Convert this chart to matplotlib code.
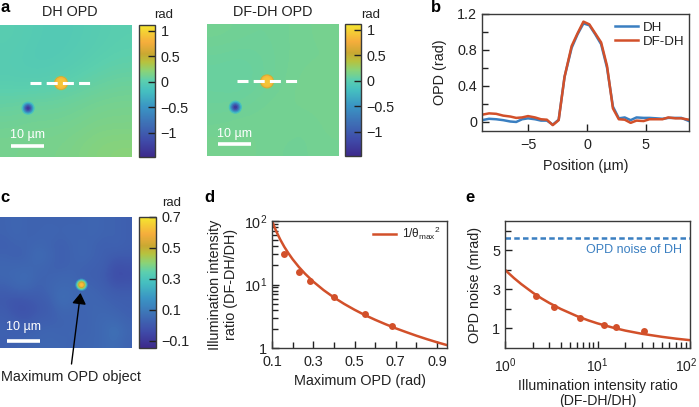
"""
OPD comparison figure: DH vs DF-DH maps, line profile, noise curves.
"""

import matplotlib
matplotlib.use('Agg')
import matplotlib.pyplot as plt
from matplotlib.colors import LinearSegmentedColormap, Normalize
from matplotlib.patches import Circle
from matplotlib.ticker import FixedLocator, NullFormatter
from matplotlib.transforms import ScaledTranslation

W, H = 699, 407

# panel a: coarse background maps (rad), rows top to bottom
dh_map = [
    [0.00, -0.03, -0.05, -0.04, -0.01, 0.01],
    [-0.02, -0.05, -0.05, -0.02, 0.01, 0.03],
    [-0.01, -0.02, 0.00, 0.03, 0.06, 0.08],
    [0.06, 0.08, 0.08, 0.10, 0.12, 0.13],
    [0.11, 0.12, 0.12, 0.13, 0.15, 0.15],
    [0.13, 0.14, 0.14, 0.16, 0.19, 0.20],
]
dfdh_map = [
    [0.12, 0.11, 0.10, 0.11, 0.12, 0.13],
    [0.09, 0.08, 0.09, 0.11, 0.12, 0.12],
    [0.07, 0.06, 0.09, 0.11, 0.13, 0.13],
    [0.09, 0.09, 0.11, 0.12, 0.13, 0.13],
    [0.11, 0.12, 0.12, 0.12, 0.11, 0.13],
    [0.13, 0.13, 0.12, 0.11, 0.11, 0.12],
]

# bright and dark objects: centre in um, ring radius in um, ring value in rad
bright_radii = [2.2, 2.05, 1.9, 1.7, 1.3]
bright_values = [0.3, 0.55, 0.75, 0.85, 0.9]
dark_radii = [2.0, 1.6, 1.25, 0.9, 0.5]
dark_values = [-0.15, -0.45, -0.75, -1.05, -1.3]
dh_bright_xy = (18.5, 17.6)
dh_dark_xy = (8.5, 25.2)
dfdh_bright_xy = (18.2, 17.4)
dfdh_dark_xy = (8.6, 25.2)

# panel b: line profile
position = [-8.9, -8.3, -7.7, -7.1, -6.5, -6.0, -5.5, -5.0, -4.4, -3.9, -3.4, -2.9,
            -2.4, -1.9, -1.3, -0.8, -0.3, 0.2, 0.7, 1.2, 1.7, 2.2, 2.7, 3.2, 3.7,
            4.2, 4.8, 5.3, 5.9, 6.4, 6.9, 7.5, 8.0, 8.65]
opd_dh = [0.02, 0.035, 0.03, 0.02, 0.005, 0.0, 0.03, 0.04, 0.03, 0.015, 0.015, -0.03,
          0.025, 0.5, 0.82, 0.97, 1.09, 1.07, 0.97, 0.86, 0.6, 0.17, 0.04, 0.05, 0.02,
          0.05, 0.045, 0.045, 0.04, 0.035, 0.045, 0.045, 0.045, 0.01]
opd_dfdh = [0.08, 0.095, 0.09, 0.07, 0.06, 0.045, 0.05, 0.065, 0.05, 0.03, 0.025, -0.035,
            0.02, 0.5, 0.84, 0.98, 1.11, 1.08, 0.98, 0.88, 0.62, 0.15, 0.03, 0.025, -0.01,
            0.015, 0.01, 0.03, 0.03, 0.03, 0.05, 0.04, 0.04, 0.025]

# panel c: coarse background map (rad), rows top to bottom
max_opd_map = [
    [0.03, 0.04, 0.03, 0.03, 0.03, 0.03, 0.03, 0.03, 0.04, 0.03, 0.03, 0.02],
    [0.03, 0.04, 0.03, 0.03, 0.04, 0.03, 0.04, 0.03, 0.04, 0.03, 0.03, 0.02],
    [0.02, 0.03, 0.03, 0.04, 0.03, 0.02, 0.03, 0.04, 0.03, 0.02, 0.03, 0.02],
    [0.03, 0.02, 0.03, 0.06, 0.04, 0.02, 0.03, 0.04, 0.03, 0.02, 0.01, 0.01],
    [0.04, 0.04, 0.04, 0.04, 0.03, 0.02, 0.03, 0.03, 0.02, 0.02, -0.03, -0.02],
    [0.04, 0.05, 0.06, 0.03, 0.03, 0.04, 0.04, 0.02, 0.02, 0.01, -0.04, -0.03],
    [0.02, 0.04, 0.04, 0.02, 0.04, 0.05, 0.05, 0.04, 0.03, 0.02, 0.00, 0.00],
    [0.00, -0.01, 0.00, 0.01, 0.02, 0.07, 0.05, 0.04, 0.04, 0.03, 0.02, 0.02],
    [0.01, -0.02, -0.02, 0.00, 0.01, 0.04, 0.04, 0.03, 0.04, 0.04, 0.03, 0.02],
    [0.02, 0.01, 0.00, 0.02, 0.02, 0.03, 0.03, 0.03, 0.04, 0.05, 0.05, 0.03],
    [0.03, 0.02, 0.03, 0.03, 0.04, 0.03, 0.04, 0.03, 0.04, 0.05, 0.08, 0.04],
    [0.02, 0.03, 0.03, 0.04, 0.04, 0.04, 0.03, 0.04, 0.04, 0.05, 0.06, 0.03],
]
max_radii = [1.9, 1.6, 1.3, 1.0, 0.7, 0.4]
max_values = [0.15, 0.30, 0.42, 0.52, 0.60, 0.63]
max_xy = (24.7, 20.7)

# panel d
opd_points = [0.16, 0.23, 0.285, 0.40, 0.55, 0.68]
ratio_points = [30, 15.5, 11.5, 6.3, 3.4, 2.2]
opd_curve = [0.1, 0.12, 0.14, 0.16, 0.18, 0.2, 0.23, 0.26, 0.3, 0.35, 0.4, 0.45, 0.5,
             0.55, 0.6, 0.65, 0.7, 0.75, 0.8, 0.85, 0.9, 0.948]
ratio_curve = [100, 69.4, 51, 39, 30.9, 25, 18.9, 14.8, 11.1, 8.16, 6.25, 4.94, 4,
               3.3, 2.78, 2.37, 2.04, 1.78, 1.56, 1.38, 1.23, 1.11]

# panel e
ratio_meas = [2.15, 3.4, 6.4, 11.8, 16, 32]
noise_meas = [2.65, 2.1, 1.55, 1.2, 1.05, 0.87]
ratio_fit = [1, 1.25, 1.5, 2, 2.5, 3, 4, 6, 8, 10, 15, 20, 30, 50, 70, 100]
noise_fit = [4, 3.58, 3.27, 2.83, 2.53, 2.31, 2, 1.63, 1.41, 1.26, 1.03, 0.89, 0.73, 0.57, 0.48, 0.4]
dh_noise = 5.65

BLUE = '#3a7fc1'
RED = '#d2502a'
INK = '#222222'
EDGE = '#3a3a3a'

plt.rcParams['font.family'] = ['Liberation Sans', 'DejaVu Sans']
plt.rcParams['font.size'] = 10.4
plt.rcParams['text.color'] = INK
plt.rcParams['axes.labelcolor'] = INK
plt.rcParams['xtick.color'] = INK
plt.rcParams['ytick.color'] = INK
plt.rcParams['axes.edgecolor'] = EDGE
plt.rcParams['mathtext.fontset'] = 'custom'
plt.rcParams['mathtext.rm'] = 'Liberation Sans'
plt.rcParams['mathtext.it'] = 'Liberation Sans:italic'
plt.rcParams['mathtext.bf'] = 'Liberation Sans:bold'
plt.rcParams['mathtext.default'] = 'regular'

parula = LinearSegmentedColormap.from_list('parula_print', [
    (0.00, '#3d2a8c'), (0.12, '#3f4aa8'), (0.25, '#3e6fb5'), (0.38, '#3a95c4'),
    (0.50, '#45bfc0'), (0.58, '#5ccfae'), (0.65, '#8ad378'), (0.72, '#b7c23e'),
    (0.78, '#c9a832'), (0.87, '#f5ad3c'), (1.00, '#f5e62f'),
])

fig = plt.figure(figsize=(W / 100, H / 100), dpi=100)


def px_axes(x0, y0, x1, y1):
    """Axes from a pixel box measured from the top left of the figure."""
    return fig.add_axes([x0 / W, 1 - y1 / H, (x1 - x0) / W, (y1 - y0) / H])


def px_text(x, y, s, **kwargs):
    kwargs.setdefault('ha', 'center')
    kwargs.setdefault('va', 'center')
    fig.text(x / W, 1 - y / H, s, **kwargs)


def draw_map(box, cbar_box, data, norm, ticks, labels):
    ax = px_axes(*box)
    im = ax.imshow(data, cmap=parula, norm=norm, extent=[0, 40, 40, 0],
                   interpolation='bicubic', aspect='auto')
    ax.axis('off')
    cax = px_axes(*cbar_box)
    cb = fig.colorbar(im, cax=cax)
    cb.set_ticks(ticks, labels=labels)
    cb.minorticks_off()
    cax.tick_params(direction='in', length=5, width=1, pad=4)
    cb.outline.set_linewidth(1)
    cb.outline.set_edgecolor(EDGE)
    return ax


def draw_spot(ax, xy, radii, values, norm):
    for radius, value in zip(radii, values):
        ax.add_patch(Circle(xy, radius, color=parula(norm(value)), lw=0))


def scale_bar(ax, x0, y_bar, y_text):
    ax.plot([x0, x0 + 10], [y_bar, y_bar], color='white', lw=2.6, solid_capstyle='butt')
    ax.text(x0 + 5, y_text, '10 µm', color='white', ha='center', va='center', fontsize=9)
    ax.set_xlim(0, 40)
    ax.set_ylim(40, 0)


def style_plot(ax):
    for spine in ax.spines.values():
        spine.set_linewidth(1)
    ax.tick_params(which='both', direction='in', width=1, top=False, right=False)
    ax.tick_params(which='major', length=5)
    ax.tick_params(which='minor', length=4)
    ax.tick_params(axis='x', which='major', pad=5)
    ax.tick_params(axis='y', which='major', pad=3.5)


# panel a
norm_a = Normalize(-1.47, 1.11)
ticks_a = [-1, -0.5, 0, 0.5, 1]
labels_a = ['\u22121', '\u22120.5', '0', '0.5', '1']

ax_dh = draw_map((0, 25, 132, 157), (139, 25, 155, 157), dh_map, norm_a, ticks_a, labels_a)
draw_spot(ax_dh, dh_bright_xy, bright_radii, bright_values, norm_a)
draw_spot(ax_dh, dh_dark_xy, dark_radii, dark_values, norm_a)
ax_dh.plot([9, 28], [17.6, 17.6], color='white', lw=2.2, dashes=(3.6, 1.7))
scale_bar(ax_dh, 3.4, 36.6, 33.3)

ax_df = draw_map((207, 24, 339, 156), (345, 24, 361, 156), dfdh_map, norm_a, ticks_a, labels_a)
draw_spot(ax_df, dfdh_bright_xy, bright_radii, bright_values, norm_a)
draw_spot(ax_df, dfdh_dark_xy, dark_radii, dark_values, norm_a)
ax_df.plot([9, 28], [17.4, 17.4], color='white', lw=2.2, dashes=(3.6, 1.7))
scale_bar(ax_df, 3.4, 36.4, 33.3)

px_text(70, 12, 'DH OPD', fontsize=10.4)
px_text(273, 12, 'DF-DH OPD', fontsize=10.4)
px_text(164, 15, 'rad', fontsize=9.5)
px_text(371, 15, 'rad', fontsize=9.5)

# panel b
ax_b = px_axes(482, 13.5, 689, 131)
ax_b.plot(position, opd_dh, color=BLUE, lw=1.8, label='DH')
ax_b.plot(position, opd_dfdh, color=RED, lw=1.8, label='DF-DH')
ax_b.set_xlim(-8.9, 8.65)
ax_b.set_ylim(-0.1, 1.2)
ax_b.set_xticks([-5, 0, 5], labels=['\u22125', '0', '5'])
ax_b.set_yticks([0, 0.4, 0.8, 1.2], labels=['0', '0.4', '0.8', '1.2'])
ax_b.yaxis.set_minor_locator(FixedLocator([0.2, 0.6, 1.0]))
style_plot(ax_b)
ax_b.set_xlabel('Position (µm)', labelpad=5)
ax_b.set_ylabel('OPD (rad)', labelpad=7.5)
ax_b.legend(loc='upper left', bbox_to_anchor=(0.643, 0.93), frameon=False, fontsize=9.6,
            handlelength=1.7, handletextpad=0.4, labelspacing=0.1, borderpad=0, borderaxespad=0)

# panel c
norm_c = Normalize(-0.147, 0.7)
ax_c = draw_map((0, 217, 132, 348), (139, 217, 156, 348), max_opd_map, norm_c,
                [-0.1, 0.1, 0.3, 0.5, 0.7], ['\u22120.1', '0.1', '0.3', '0.5', '0.7'])
draw_spot(ax_c, max_xy, max_radii, max_values, norm_c)
scale_bar(ax_c, 2.1, 37.8, 33.6)
px_text(172, 203, 'rad', fontsize=9.5)
fig.add_artist(plt.Annotation(
    '', xy=(80.5 / W, 1 - 293 / H), xytext=(71.5 / W, 1 - 364 / H),
    xycoords='figure fraction', textcoords='figure fraction',
    arrowprops=dict(arrowstyle='-|>,head_length=0.6,head_width=0.38', color='black', lw=1,
                    shrinkA=0, shrinkB=0, mutation_scale=11),
))
px_text(1, 377, 'Maximum OPD object', ha='left')

# panel d
ax_d = px_axes(272, 221, 447, 348)
ax_d.plot(opd_curve, ratio_curve, color=RED, lw=1.8, label=r'$1/\theta_{max}{}^{2}$')
ax_d.plot(opd_points, ratio_points, 'o', color=RED, ms=5, mew=0)
ax_d.set_yscale('log')
ax_d.set_xlim(0.1, 0.948)
ax_d.set_ylim(1, 100)
ax_d.set_xticks([0.1, 0.3, 0.5, 0.7, 0.9], labels=['0.1', '0.3', '0.5', '0.7', '0.9'])
ax_d.xaxis.set_minor_locator(FixedLocator([0.2, 0.4, 0.6, 0.8]))
ax_d.set_yticks([1, 10, 100], labels=['1', r'$10^{1}$', r'$10^{2}$'])
ax_d.yaxis.set_minor_formatter(NullFormatter())
style_plot(ax_d)
ax_d.set_xlabel('Maximum OPD (rad)', labelpad=4)
ax_d.set_ylabel('Illumination intensity\nratio (DF-DH/DH)', labelpad=4.5, linespacing=1.15)
ax_d.legend(loc='upper left', bbox_to_anchor=(0.575, 0.97), frameon=False, fontsize=8.5,
            handlelength=2.0, handletextpad=0.45, borderpad=0, borderaxespad=0)

# panel e
ax_e = px_axes(505, 221, 690, 348)
ax_e.plot(ratio_fit, noise_fit, color=RED, lw=1.8)
ax_e.plot(ratio_meas, noise_meas, 'o', color=RED, ms=5, mew=0)
ax_e.plot([1, 100], [dh_noise, dh_noise], color=BLUE, lw=1.8, dashes=(2.2, 1.3))
ax_e.set_xscale('log')
ax_e.set_xlim(1, 100)
ax_e.set_ylim(0, 6.5)
ax_e.set_xticks([1, 10, 100], labels=[r'$10^{0}$', r'$10^{1}$', r'$10^{2}$'])
ax_e.set_yticks([1, 3, 5], labels=['1', '3', '5'])
ax_e.yaxis.set_minor_locator(FixedLocator([2, 4, 6]))
ax_e.xaxis.set_minor_formatter(NullFormatter())
style_plot(ax_e)
ax_e.tick_params(axis='x', which='major', pad=6, labelsize=10)
# the last label would run off the right edge of the figure
last_label = ax_e.get_xticklabels()[-1]
last_label.set_transform(last_label.get_transform() + ScaledTranslation(-4 / 100, 0, fig.dpi_scale_trans))
ax_e.text(24.8, 5.0, 'OPD noise of DH', color=BLUE, fontsize=9, ha='center', va='center')
ax_e.set_xlabel('Illumination intensity ratio\n(DF-DH/DH)', labelpad=3, linespacing=1.1, fontsize=10.2)
ax_e.set_ylabel('OPD noise (mrad)', labelpad=7)

# panel letters
for x, y, letter in [(5, 8, 'a'), (436, 8, 'b'), (5, 197, 'c'), (209, 197, 'd'), (470, 197, 'e')]:
    px_text(x, y, letter, fontsize=12, fontweight='bold', color='black')

fig.savefig('out.png', dpi=100)
